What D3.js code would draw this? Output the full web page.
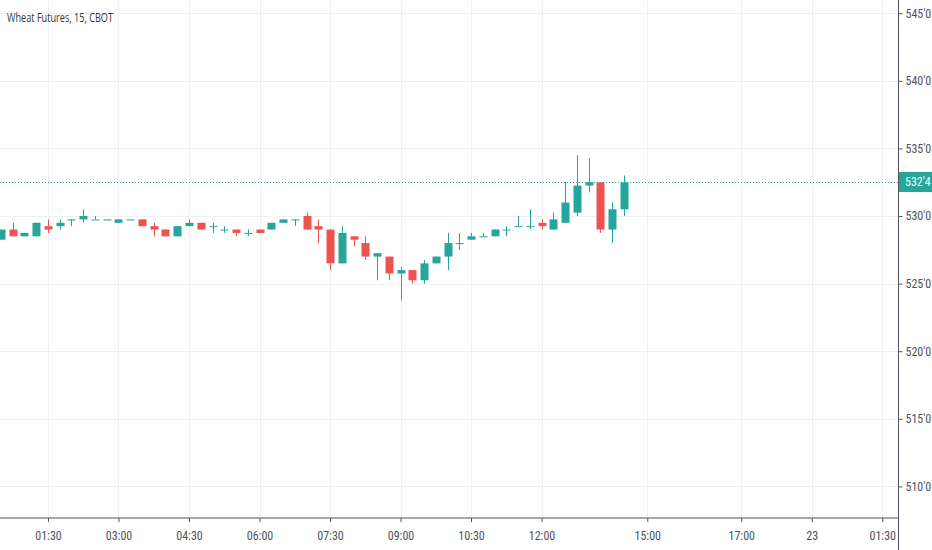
<!DOCTYPE html>
<html>
<head>
<meta charset="utf-8">
<script src="https://cdn.jsdelivr.net/npm/d3@7"></script>
<style>
  html, body { margin: 0; padding: 0; background: #fff; }
  svg { display: block; }
  .tick text { font-family: "Liberation Sans Narrow", "Roboto Condensed", "Liberation Sans", sans-serif; }
</style>
</head>
<body>
<svg id="chart"></svg>
<script>
  // bar index (15 min bars), prices in cents
  var barIndex = [2, 3, 4, 5, 6, 7, 8, 9, 10, 11, 12, 13, 14, 15, 16, 17, 18, 19, 20, 21,
    22, 23, 24, 25, 26, 27, 28, 29, 30, 31, 32, 33, 34, 35, 36, 37, 38, 39, 40, 41,
    42, 43, 44, 45, 46, 47, 48, 49, 50, 51, 52, 53, 54, 55];
  var opens = [528.25, 529.0, 528.5, 528.5, 529.25, 529.25, 529.75, 529.75, 529.75, 529.75,
    529.5, 529.75, 529.75, 529.25, 529.0, 528.5, 529.25, 529.5, 529.25, 529.0,
    529.0, 528.75, 529.0, 529.0, 529.5, 529.75, 530.0, 529.25, 529.0, 526.5,
    528.5, 528.0, 527.0, 527.0, 525.75, 526.0, 525.25, 526.5, 527.0, 528.0,
    528.25, 528.5, 528.5, 529.0, 529.25, 529.25, 529.5, 529.0, 529.5, 530.25,
    532.25, 532.5, 529.0, 530.5];
  var highs = [529.0, 529.5, 528.75, 529.5, 529.75, 529.75, 529.75, 530.5, 530.0, 529.75,
    529.75, 529.75, 529.75, 529.5, 529.0, 529.25, 529.75, 529.5, 529.5, 529.25,
    529.0, 529.0, 529.0, 529.5, 529.75, 529.75, 530.25, 529.75, 529.0, 529.25,
    528.5, 528.5, 527.25, 527.0, 526.25, 526.0, 526.75, 527.0, 528.75, 528.75,
    528.75, 528.75, 529.0, 529.25, 530.0, 530.5, 529.75, 530.25, 532.5, 534.5,
    534.25, 532.5, 531.0, 533.0];
  var lows = [528.25, 528.5, 528.5, 528.5, 528.75, 529.0, 529.25, 529.5, 529.75, 529.75,
    529.5, 529.75, 529.25, 528.5, 528.5, 528.5, 529.25, 529.0, 528.75, 528.75,
    528.5, 528.5, 528.75, 529.0, 529.5, 529.25, 529.0, 528.0, 526.0, 526.5,
    527.75, 526.75, 525.25, 525.25, 523.75, 525.0, 525.0, 526.5, 526.0, 527.5,
    528.25, 528.5, 528.5, 528.5, 529.25, 529.0, 529.0, 529.0, 529.5, 530.0,
    531.75, 528.75, 528.0, 530.0];
  var closes = [529.0, 528.5, 528.75, 529.5, 529.0, 529.5, 529.75, 530.0, 529.75, 529.75,
    529.75, 529.75, 529.25, 529.0, 528.5, 529.25, 529.5, 529.0, 529.25, 529.0,
    528.75, 528.75, 528.75, 529.5, 529.75, 529.75, 529.0, 529.0, 526.5, 528.75,
    528.25, 527.0, 527.25, 525.75, 526.0, 525.25, 526.5, 527.0, 528.0, 528.0,
    528.5, 528.5, 529.0, 529.0, 529.25, 529.25, 529.25, 529.75, 531.0, 532.25,
    532.5, 529.0, 530.5, 532.5];

  var xTickIndex = [6, 12, 18, 24, 30, 36, 42, 48, 57, 65, 71, 77];
  var xTickLabels = ['01:30', '03:00', '04:30', '06:00', '07:30', '09:00', '10:30', '12:00',
    '15:00', '17:00', '23', '01:30'];
  var yTicks = [510, 515, 520, 525, 530, 535, 540, 545];
  var lastPrice = 532.5;

  var width = 932, height = 550;
  var plotW = 898, plotH = 517.5;
  var up = '#26a69a', down = '#ef5350';
  var axisFont = '"Liberation Sans Narrow", "Roboto Condensed", "Liberation Sans", sans-serif';

  // price in cents -> "532'4" (eighths style of CBOT grains)
  function fmtPrice (p) {
    var whole = Math.floor(p);
    var frac = Math.round((p - whole) * 8);
    return whole + "'" + frac;
  }

  var data = barIndex.map(function (d, i) {
    return { i: d, o: opens[i], h: highs[i], l: lows[i], c: closes[i] };
  });

  var x = d3.scaleLinear().domain([1.915, 78.34]).range([0, plotW]);
  var y = d3.scaleLinear().domain([507.7, 545.98]).range([plotH, 0]);

  var svg = d3.select('#chart')
    .attr('width', width)
    .attr('height', height);

  svg.append('rect').attr('width', width).attr('height', height).attr('fill', '#fff');

  // grid
  var grid = svg.append('g').attr('class', 'grid');
  grid.selectAll('line.v').data(xTickIndex)
    .enter().append('line')
      .attr('x1', function (d) { return Math.round(x(d)) + 0.5; })
      .attr('x2', function (d) { return Math.round(x(d)) + 0.5; })
      .attr('y1', 0).attr('y2', plotH)
      .attr('stroke', '#eef0f4');
  grid.selectAll('line.h').data(yTicks)
    .enter().append('line')
      .attr('x1', 0).attr('x2', plotW)
      .attr('y1', function (d) { return Math.round(y(d)) + 0.5; })
      .attr('y2', function (d) { return Math.round(y(d)) + 0.5; })
      .attr('stroke', '#eef0f4');

  // candles
  var candles = svg.append('g').selectAll('g').data(data)
    .enter().append('g')
      .attr('fill', function (d) { return d.c >= d.o ? up : down; })
      .attr('stroke', function (d) { return d.c >= d.o ? up : down; });

  candles.append('line')
    .attr('x1', function (d) { return Math.round(x(d.i)) + 0.5; })
    .attr('x2', function (d) { return Math.round(x(d.i)) + 0.5; })
    .attr('y1', function (d) { return y(d.h); })
    .attr('y2', function (d) { return y(d.l); })
    .attr('stroke-width', 1);

  candles.append('rect')
    .attr('x', function (d) { return Math.round(x(d.i)) - 3.5; })
    .attr('width', 8)
    .attr('y', function (d) { return y(Math.max(d.o, d.c)); })
    .attr('height', function (d) { return Math.max(1, y(Math.min(d.o, d.c)) - y(Math.max(d.o, d.c))); })
    .attr('stroke', 'none');

  // last price line
  svg.append('line')
    .attr('x1', 0).attr('x2', plotW)
    .attr('y1', Math.round(y(lastPrice)) + 0.5)
    .attr('y2', Math.round(y(lastPrice)) + 0.5)
    .attr('stroke', up)
    .attr('stroke-dasharray', '1,2');

  // axes
  var yAxis = d3.axisRight(y)
    .tickValues(yTicks)
    .tickSize(4)
    .tickPadding(3)
    .tickFormat(fmtPrice);
  var gy = svg.append('g')
    .attr('transform', 'translate(' + (plotW + 0.5) + ',0)')
    .call(yAxis);
  gy.select('.domain').remove();

  var xAxis = d3.axisBottom(x)
    .tickValues(xTickIndex)
    .tickSize(4)
    .tickPadding(9)
    .tickFormat(function (d, i) { return xTickLabels[i]; });
  var gx = svg.append('g')
    .attr('transform', 'translate(0,' + (plotH + 0.5) + ')')
    .call(xAxis);
  gx.select('.domain').remove();

  [gx, gy].forEach(function (g) {
    g.selectAll('.tick line').attr('stroke', '#50535e');
    g.selectAll('.tick text')
      .attr('fill', '#50535e')
      .style('font-size', '12px')
      .style('font-family', axisFont);
  });

  // axis borders
  svg.append('line')
    .attr('x1', plotW + 0.5).attr('x2', plotW + 0.5)
    .attr('y1', 0).attr('y2', height)
    .attr('stroke', '#50535e');
  svg.append('line')
    .attr('x1', 0).attr('x2', plotW + 0.5)
    .attr('y1', plotH + 0.5).attr('y2', plotH + 0.5)
    .attr('stroke', '#50535e');

  // last price label
  var ly = Math.round(y(lastPrice));
  svg.append('rect')
    .attr('x', plotW + 1).attr('y', ly - 10)
    .attr('width', width - plotW - 1).attr('height', 20)
    .attr('fill', up);
  svg.append('text')
    .attr('x', plotW + 7).attr('y', ly + 4)
    .attr('fill', '#fff')
    .style('font-size', '12px')
    .style('font-family', axisFont)
    .text(fmtPrice(lastPrice));

  // title
  svg.append('text')
    .attr('x', 7).attr('y', 22)
    .attr('fill', '#333')
    .style('font-size', '13px')
    .style('font-family', '"Open Sans", sans-serif')
    .attr('textLength', 106)
    .attr('lengthAdjust', 'spacingAndGlyphs')
    .text('Wheat Futures, 15, CBOT');
</script>
</body>
</html>
